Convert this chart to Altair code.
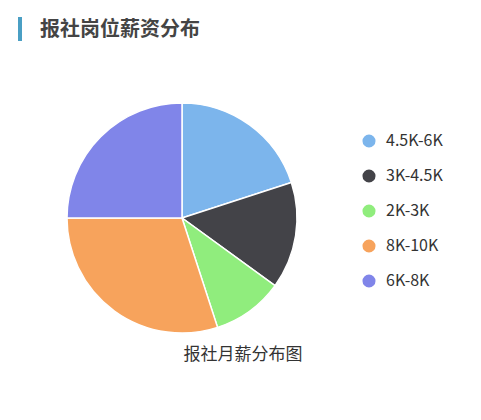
import altair as alt
import pandas as pd

categories = ["4.5K-6K", "3K-4.5K", "2K-3K", "8K-10K", "6K-8K"]
shares = [20, 15, 10, 30, 25]
colors = ["#7cb5ec", "#434348", "#90ed7d", "#f7a35c", "#8085e9"]
title_text = "报社岗位薪资分布"
subtitle_text = "报社月薪分布图"

FONT = "Noto Sans CJK SC"

source = pd.DataFrame({"category": categories, "value": shares, "idx": range(len(categories))})

pie = alt.Chart(source).mark_arc(outerRadius=115, stroke="#fff", strokeWidth=1.5).encode(
    theta=alt.Theta("value:Q", stack=True),
    order=alt.Order("idx:Q"),
    color=alt.Color(
        "category:N",
        scale=alt.Scale(domain=categories, range=colors),
        legend=alt.Legend(
            title=None,
            orient="none",
            legendX=353,
            legendY=125,
            symbolType="circle",
            symbolSize=170,
            symbolStrokeWidth=0,
            labelFont=FONT,
            labelFontSize=16,
            labelColor="#333",
            labelOffset=9,
            rowPadding=19,
        ),
    ),
    x=alt.value(174),
    y=alt.value(210),
)

bar = alt.Chart(pd.DataFrame({"k": [0]})).mark_rule(color="#4a9fc4", strokeWidth=4).encode(
    x=alt.value(12), y=alt.value(9), y2=alt.value(33)
)

title = alt.Chart(pd.DataFrame({"t": [title_text]})).mark_text(
    font=FONT, fontSize=20, fontWeight="bold", color="#444", align="left", baseline="middle"
).encode(text="t:N", x=alt.value(32), y=alt.value(22))

subtitle = alt.Chart(pd.DataFrame({"t": [subtitle_text]})).mark_text(
    font=FONT, fontSize=17, color="#333", align="center", baseline="middle"
).encode(text="t:N", x=alt.value(235), y=alt.value(347))

chart = (pie + bar + title + subtitle).properties(
    width=465, height=404, autosize=alt.AutoSizeParams(type="none"), padding=0
).configure_view(stroke=None)

chart.save("out.html", embed_options={"renderer": "svg", "actions": False})
